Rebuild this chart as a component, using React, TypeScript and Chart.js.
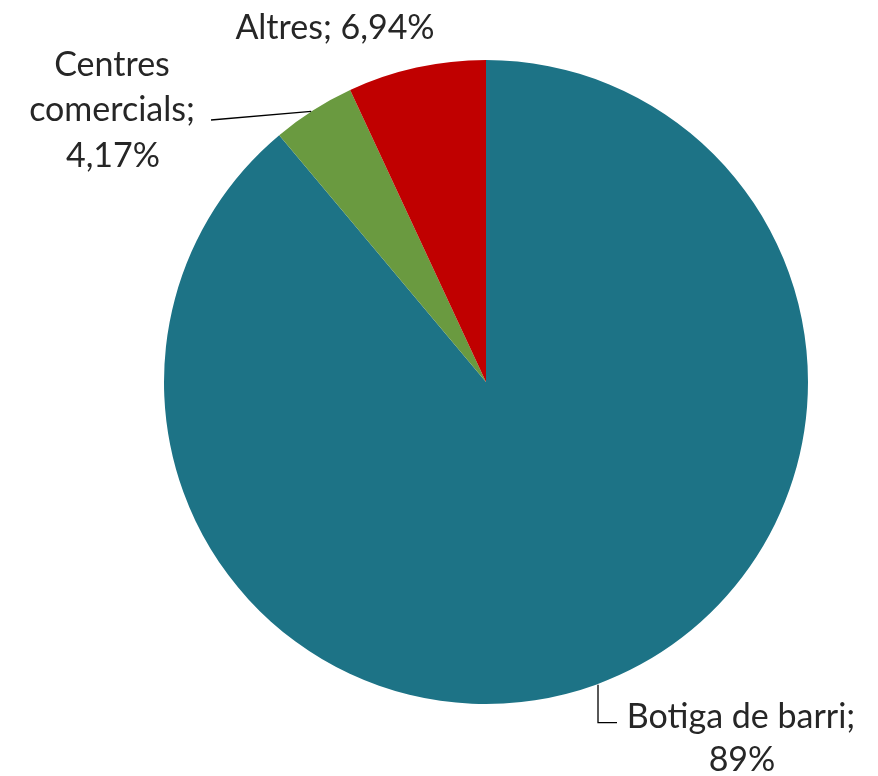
import React, { useEffect, useRef } from "react";
import { Chart, registerables } from "chart.js";

Chart.register(...registerables);

const categories = ["Botiga de barri", "Centres comercials", "Altres"];
const values = [89, 4.17, 6.94];
const valueLabels = ["89%", "4,17%", "6,94%"];
const colors = ["#1D7386", "#6A9A40", "#C00000"];

const FONT = "34px Lato, 'Open Sans', sans-serif";
const TEXT_COLOR = "#262626";

const labelPlugin = {
  id: "pieLabels",
  afterDatasetsDraw(chart: any) {
    const ctx = chart.ctx;
    const meta = chart.getDatasetMeta(0);
    const anchor = (i: number) => {
      const arc = meta.data[i];
      const mid = (arc.startAngle + arc.endAngle) / 2;
      return { x: arc.x + Math.cos(mid) * arc.outerRadius, y: arc.y + Math.sin(mid) * arc.outerRadius };
    };
    ctx.save();
    ctx.font = FONT;
    ctx.fillStyle = TEXT_COLOR;
    ctx.textAlign = "center";
    ctx.textBaseline = "middle";
    ctx.strokeStyle = "#000000";
    ctx.lineWidth = 1.3;

    // Botiga de barri
    const a0 = anchor(0);
    ctx.beginPath();
    ctx.moveTo(a0.x + 2, a0.y);
    ctx.lineTo(a0.x + 2, a0.y + 38);
    ctx.lineTo(a0.x + 21, a0.y + 38);
    ctx.stroke();
    ctx.fillText(categories[0] + ";", 741, 717);
    ctx.fillText(valueLabels[0], 742, 760);

    // Centres comercials
    const a1 = anchor(1);
    ctx.beginPath();
    ctx.moveTo(a1.x - 2, a1.y + 1);
    ctx.lineTo(211, 120);
    ctx.stroke();
    ctx.fillText("Centres", 112, 65);
    ctx.fillText("comercials;", 112, 110);
    ctx.fillText(valueLabels[1], 113, 156);

    // Altres
    ctx.fillText(categories[2] + "; " + valueLabels[2], 335, 28);
    ctx.restore();
  },
};

export default function App() {
  const ref = useRef<HTMLCanvasElement>(null);
  useEffect(() => {
    if (!ref.current) return;
    const chart = new Chart(ref.current, {
      type: "pie",
      data: {
        labels: categories,
        datasets: [
          {
            data: values,
            backgroundColor: colors,
            borderWidth: 0,
          },
        ],
      },
      options: {
        animation: false,
        responsive: false,
        layout: { padding: { left: 164, right: 70, top: 60, bottom: 72 } },
        plugins: {
          legend: { display: false },
          tooltip: { enabled: false },
        },
      },
      plugins: [labelPlugin],
    });
    return () => chart.destroy();
  }, []);
  return (
    <div style={{ position: "fixed", left: 0, top: 0, width: 878, height: 776, background: "#fff" }}>
      <canvas ref={ref} width={878} height={776} style={{ display: "block" }} />
    </div>
  );
}
